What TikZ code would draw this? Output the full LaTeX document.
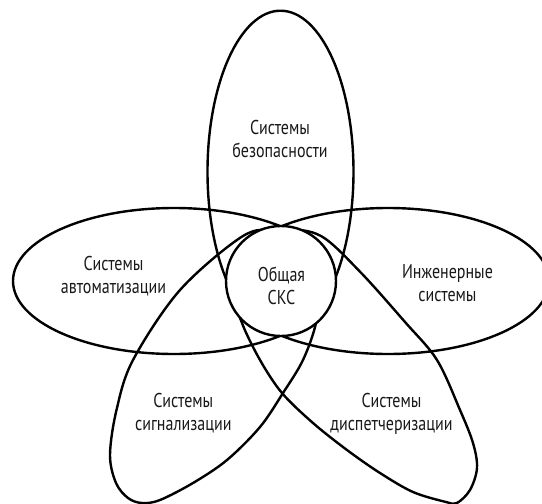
\documentclass[tikz,border=0pt]{standalone}
\usepackage{fontspec}
\setmainfont{PT Sans}[FakeStretch=0.8]
\begin{document}
\begin{tikzpicture}[x=1pt,y=-1pt,
  shape line/.style={draw=black,line width=2.4pt},
  label text/.style={font=\fontsize{20}{23}\selectfont,align=center,inner sep=0pt,text=black!90}]
\useasboundingbox (0,0) rectangle (542,504);
\fill[white] (0,0) rectangle (542,504);
\clip (0,0) rectangle (542,504);
% axis-aligned ellipses
\draw[shape line] (280.5,171.7) ellipse [x radius=73, y radius=161];
\draw[shape line] (174,281) ellipse [x radius=161, y radius=73];
\draw[shape line] (388,281) ellipse [x radius=161, y radius=73];
% lower-left petal
\draw[shape line] plot[smooth cycle, tension=0.55] coordinates {
  (305,250) (275,232) (243,236) (180,290) (133,360) (116.5,410) (110,455)
  (116,483) (128,498) (142,503) (160,500) (193,483) (227,460) (260,427)
  (283,393) (303,360) (316,323) (318,290)};
% lower-right petal
\draw[shape line] plot[smooth cycle, tension=0.55] coordinates {
  (257,250) (286,231) (321,236) (360,271.7) (405,322) (437,360) (460,410)
  (473,443) (477,468) (470,490) (457,503) (446,502) (413,492) (380,473)
  (347,450) (313,423) (282,393) (260,360) (242,323) (236,295)};
% centre circle
\node[shape line, fill=white, circle, minimum size=110pt, inner sep=0pt] (core) at (281,281) {};
% labels
\node[label text] (sec) at (280,138.5) {Системы\\безопасности};
\node[label text] (aut) at (113.5,276.5) {Системы\\автоматизации};
\node[label text] (eng) at (447.5,283) {Инженерные\\системы};
\node[label text] (scs) at (281.5,286) {Общая\\СКС};
\node[label text] (sig) at (183.3,413.3) {Системы\\сигнализации};
\node[label text] (dis) at (391.5,414) {Системы\\диспетчеризации};
\end{tikzpicture}
\end{document}
